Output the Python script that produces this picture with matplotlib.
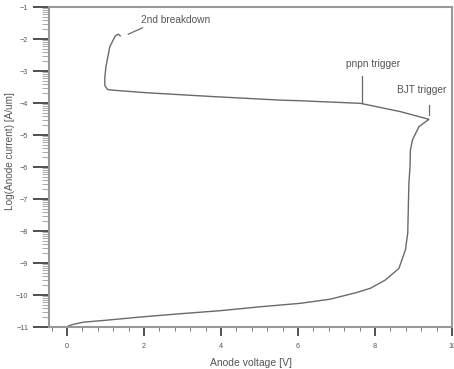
import matplotlib
matplotlib.use("Agg")
import matplotlib.pyplot as plt
import numpy as np
from matplotlib.ticker import FixedLocator, MultipleLocator

plt.rcParams['font.family'] = ['Liberation Sans', 'DejaVu Sans']

voltage = [0.0, 0.03, 0.15, 0.42, 1.0, 1.98, 3.0, 3.98, 5.0, 6.06, 6.84, 7.10, 7.5,
           7.88, 8.27, 8.62, 8.79, 8.85, 8.88, 8.91, 8.92, 8.97, 9.14, 9.40,
           8.66, 7.62, 6.06, 5.54, 3.80, 2.07, 1.20, 1.05, 0.98, 0.98, 1.01,
           1.11, 1.24, 1.28, 1.33, 1.38]
log_current = [-11.0, -10.97, -10.92, -10.85, -10.79, -10.68, -10.58, -10.49, -10.37,
               -10.26, -10.13, -10.05, -9.93, -9.79, -9.53, -9.17, -8.59, -8.07,
               -6.51, -5.99, -5.47, -5.16, -4.74, -4.51,
               -4.27, -4.01, -3.93, -3.91, -3.80, -3.68, -3.60, -3.58, -3.45, -3.2,
               -2.86, -2.24, -1.93, -1.88, -1.85, -1.90]

annotations = [
    ("2nd breakdown", (2.83, -1.41), [(1.59, 1.96), (-1.85, -1.65)]),
    ("pnpn trigger", (7.96, -2.78), [(7.65, 7.65), (-3.16, -3.99)]),
    ("BJT trigger", (9.21, -3.59), [(9.40, 9.40), (-4.06, -4.38)]),
]

xlabel = "Anode voltage [V]"
ylabel = "Log(Anode current) [A/um]"

fig = plt.figure(figsize=(4.54, 3.69), dpi=100)
ax = fig.add_axes([49/454, 1-327/369, (452-49)/454, (327-7)/369])

line_col = '#6a6a6a'
text_col = '#555555'
ax.plot(voltage, log_current, color=line_col, lw=1.0)

for txt, (tx, ty), (lx, ly) in annotations:
    ax.text(tx, ty, txt, ha='center', va='center', fontsize=7.3, color=text_col)
    ax.plot(lx, ly, color=line_col, lw=0.9)

ax.set_xlim(-0.47, 10)
ax.set_ylim(-11, -1)

ax.xaxis.set_major_locator(MultipleLocator(2))
ax.xaxis.set_minor_locator(MultipleLocator(0.4))
ax.yaxis.set_major_locator(MultipleLocator(1))
minor_y = [n + np.log10(k) for n in range(-11, -1) for k in range(2, 10)]
ax.yaxis.set_minor_locator(FixedLocator(minor_y))

ax.tick_params(axis='y', which='major', direction='out', length=11.5, width=1.2,
               color='#333333', labelsize=5.2, labelcolor=text_col, pad=3.5)
ax.tick_params(axis='y', which='minor', direction='out', length=5, width=0.6,
               color='#999999')
ax.tick_params(axis='x', which='major', direction='out', length=6.5, width=1.2,
               color='#333333', labelsize=5.2, labelcolor=text_col, pad=5)
ax.tick_params(axis='x', which='minor', direction='out', length=3, width=0.7,
               color='#777777')

for s in ax.spines.values():
    s.set_color('#999999')
    s.set_linewidth(1.5)

ax.set_xlabel(xlabel, fontsize=7.5, color=text_col, labelpad=6)
ax.set_ylabel(ylabel, fontsize=7.2, color=text_col)
ax.yaxis.set_label_coords(-0.084, 0.55)

fig.savefig("out.png", dpi=100)
